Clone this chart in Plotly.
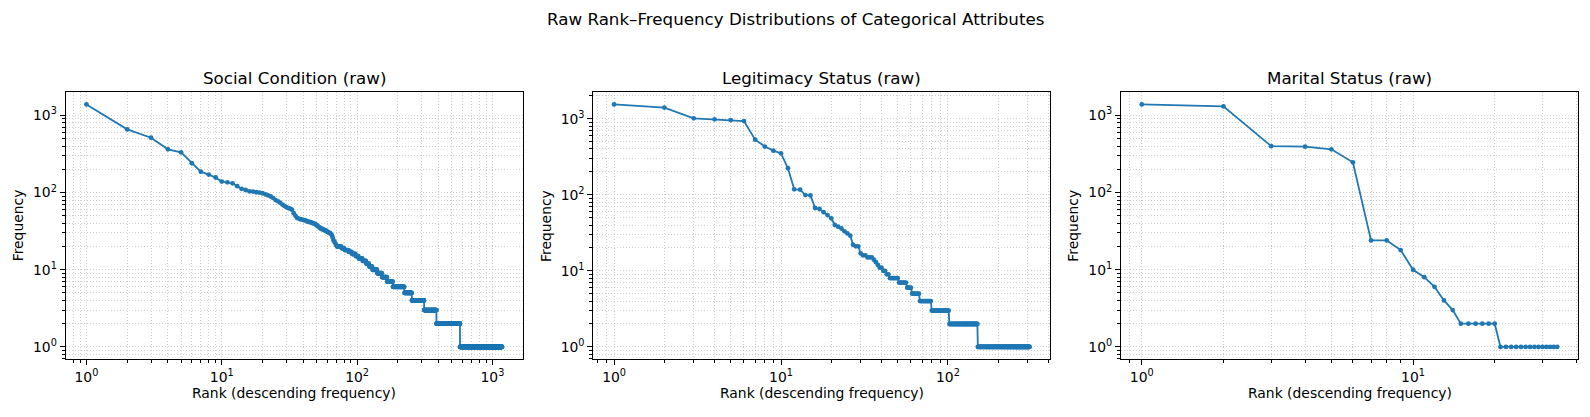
import math
import plotly.graph_objects as go

# ---------------- data ----------------
# Social Condition: individually read frequencies for ranks 1..70,
# then runs of (frequency, number of ranks) for the tail.
social_top = [1390, 660, 515, 364, 333, 240, 187, 171, 157, 139,
              136, 132, 121, 112, 108, 104, 103, 101, 100, 98,
              95, 92, 89, 85, 80, 77, 74, 70, 67, 65,
              63, 62, 60, 54, 50, 47, 46, 45, 45, 44,
              44, 43, 42, 42, 41, 41, 40, 40, 39, 38,
              37, 36, 35, 34, 34, 33, 33, 32, 32, 31,
              31, 30, 30, 29, 28, 26, 24, 23, 22, 21]
social_run_freq = [20, 19, 18, 17, 16, 15, 14, 13, 12, 11, 10, 9, 8, 7, 6, 5, 4, 3, 2, 1]
social_run_count = [6, 4, 6, 5, 6, 5, 7, 7, 6, 7, 11, 12, 14, 17, 40, 30, 59, 73, 190, 600]

# Legitimacy Status
legit_top = [1540, 1400, 1010, 980, 960, 930, 530, 430, 380, 350,
             223, 118, 117, 99, 98, 67, 65, 59, 54, 49,
             40, 38, 36, 33, 31, 29, 22, 21, 21, 17,
             16, 16, 15, 15, 15, 14, 13, 12, 11, 11,
             10, 10, 9, 9]
legit_run_freq = [8, 7, 6, 5, 4, 3, 2, 1]
legit_run_count = [6, 6, 4, 7, 12, 22, 49, 158]

# Marital Status
marital_top = [1390, 1310, 400, 394, 364, 247, 24, 24, 18, 10, 8, 6, 4, 3]
marital_run_freq = [2, 1]
marital_run_count = [6, 14]

panel_titles = ["Social Condition (raw)", "Legitimacy Status (raw)", "Marital Status (raw)"]
suptitle = "Raw Rank–Frequency Distributions of Categorical Attributes"
x_label = "Rank (descending frequency)"
y_label = "Frequency"
decade_vals = [1, 10, 100, 1000]
decade_text = ["10<sup>0</sup>", "10<sup>1</sup>", "10<sup>2</sup>", "10<sup>3</sup>"]


def expand(top, freqs, counts):
    vals = list(top)
    for f, c in zip(freqs, counts):
        vals += [f] * c
    return vals


series = [
    expand(social_top, social_run_freq, social_run_count),
    expand(legit_top, legit_run_freq, legit_run_count),
    expand(marital_top, marital_run_freq, marital_run_count),
]

# ---------------- layout geometry ----------------
W, H = 1590, 417
left_px = [65.7, 593.3, 1121.0]
width_px = 457.0
top_px, bot_px = 92.3, 359.0
yd = [1 - bot_px / H, 1 - top_px / H]

BLUE = "#1f77b4"
GRID = "rgba(176,176,176,0.6)"
DASH = "1px,2px"
FONT = "DejaVu Sans"

minor_vals = [k * 10 ** e for e in range(-1, 4) for k in range(2, 10)]

fig = go.Figure()
layout = dict(
    width=W, height=H,
    margin=dict(l=0, r=0, t=0, b=0),
    paper_bgcolor="white", plot_bgcolor="white",
    showlegend=False,
    font=dict(family=FONT, size=13.9, color="black"),
)
annotations = []

for i, vals in enumerate(series):
    n = len(vals)
    ranks = list(range(1, n + 1))
    sfx = "" if i == 0 else str(i + 1)
    fig.add_trace(go.Scatter(
        x=ranks, y=vals, mode="lines+markers",
        line=dict(color=BLUE, width=1.8),
        marker=dict(color=BLUE, size=4.8),
        xaxis="x" + sfx, yaxis="y" + sfx,
    ))
    lx = math.log10(n)
    ly = math.log10(max(vals))
    xr = [-0.05 * lx, lx * 1.05]
    yr = [-0.05 * ly, ly * 1.05]
    x0 = left_px[i] / W
    x1 = (left_px[i] + width_px) / W
    xt = [v for v in decade_vals if v <= n * 1.2]
    common = dict(
        type="log", showline=True, linecolor="black", linewidth=1, mirror=True,
        ticks="outside", ticklen=5, tickwidth=1, tickcolor="black",
        showgrid=True, gridcolor=GRID, gridwidth=0.8, griddash=DASH,
        zeroline=False,
        tickfont=dict(family=FONT, size=13.9, color="black"),
        minor=dict(tickmode="array", tickvals=minor_vals, ticks="outside", ticklen=3,
                   tickwidth=0.8, tickcolor="black", showgrid=True,
                   gridcolor=GRID, gridwidth=0.8, griddash=DASH),
    )
    layout["xaxis" + sfx] = dict(
        common, domain=[x0, x1], range=xr, anchor="y" + sfx,
        tickmode="array", tickvals=xt, ticktext=[decade_text[decade_vals.index(v)] for v in xt],
    )
    layout["yaxis" + sfx] = dict(
        common, domain=yd, range=yr, anchor="x" + sfx,
        tickmode="array", tickvals=decade_vals, ticktext=decade_text,
    )
    cx = (left_px[i] + width_px / 2) / W
    annotations.append(dict(text=panel_titles[i], x=cx, y=1 - 78.5 / H, xref="paper", yref="paper",
                            showarrow=False, xanchor="center", yanchor="middle",
                            font=dict(family=FONT, size=16.7, color="black")))
    annotations.append(dict(text=x_label, x=cx, y=1 - 393 / H, xref="paper", yref="paper",
                            showarrow=False, xanchor="center", yanchor="middle",
                            font=dict(family=FONT, size=13.9, color="black")))
    annotations.append(dict(text=y_label, x=(left_px[i] - 48) / W, y=(yd[0] + yd[1]) / 2,
                            xref="paper", yref="paper", textangle=-90,
                            showarrow=False, xanchor="center", yanchor="middle",
                            font=dict(family=FONT, size=13.9, color="black")))

annotations.append(dict(text=suptitle, x=0.5, y=1 - 19 / H, xref="paper", yref="paper",
                        showarrow=False, xanchor="center", yanchor="middle",
                        font=dict(family=FONT, size=16.7, color="black")))
layout["annotations"] = annotations
fig.update_layout(**layout)
fig.write_html(
    "out.html",
    config={"displayModeBar": False},
    post_script="document.body.style.margin='0px';document.body.style.overflow='hidden';",
)
